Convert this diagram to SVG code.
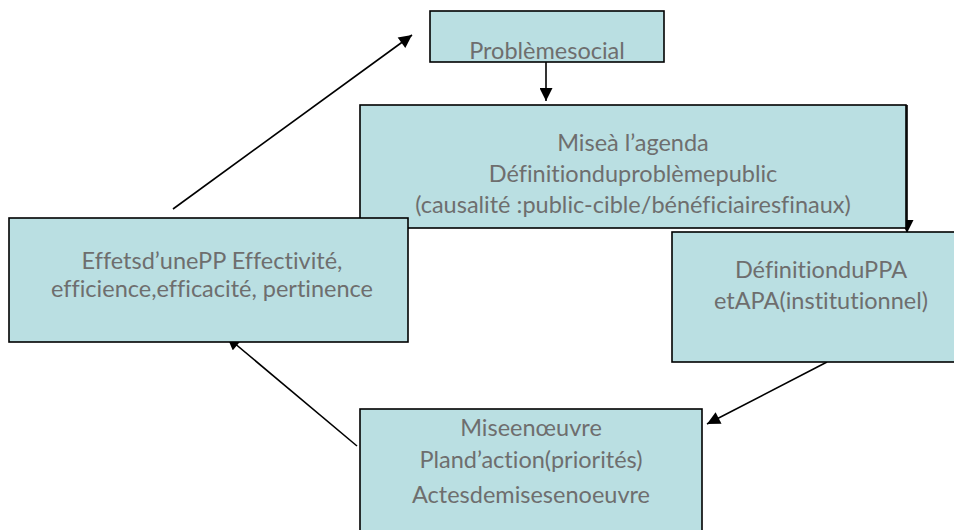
<svg xmlns="http://www.w3.org/2000/svg" width="954" height="530" viewBox="0 0 954 530">
  <defs>
    <marker id="arrowhead" viewBox="0 0 10 10" refX="10" refY="5" markerUnits="userSpaceOnUse" markerWidth="14" markerHeight="13" orient="auto">
      <path d="M0,0 L10,5 L0,10 z" fill="#000"/>
    </marker>
    <style>
      .box { fill: #badfe2; stroke: #000; stroke-width: 1.6; }
      .lbl { font-family: Lato, "Liberation Sans", sans-serif; font-size: 23.5px; fill: #6e6e6e; text-anchor: middle; font-variant-ligatures: none; font-feature-settings: "liga" 0; }
      .link { stroke: #000; stroke-width: 1.6; fill: none; marker-end: url(#arrowhead); }
    </style>
  </defs>
  <rect width="954" height="530" fill="#fff"/>

  <!-- connectors drawn first; boxes sit on top -->
  <g id="connectors">
    <line class="link" x1="546" y1="62" x2="546" y2="101"/>
    <line class="link" x1="907" y1="105" x2="907" y2="233"/>
    <line class="link" x1="827" y1="362" x2="707" y2="424"/>
    <line class="link" x1="357" y1="446" x2="227" y2="337"/>
    <line class="link" x1="173" y1="209" x2="412" y2="35"/>
  </g>

  <g id="probleme-social">
    <rect class="box" x="430" y="11" width="234" height="51"/>
    <text class="lbl" x="547" y="59">Problèmesocial</text>
  </g>

  <g id="mise-agenda">
    <rect class="box" x="360" y="105" width="546" height="123"/>
    <text class="lbl" x="633" y="151">Miseà l’agenda</text>
    <text class="lbl" x="633" y="182">Définitionduproblèmepublic</text>
    <text class="lbl" x="633" y="213">(causalité :public-cible/bénéficiairesfinaux)</text>
  </g>

  <g id="definition-ppa">
    <rect class="box" x="672" y="232" width="290" height="130"/>
    <text class="lbl" x="821" y="278">DéfinitionduPPA</text>
    <text class="lbl" x="821" y="309">etAPA(institutionnel)</text>
  </g>

  <g id="effets">
    <rect class="box" x="9" y="218" width="399" height="124"/>
    <text class="lbl" x="212" y="269">Effetsd’unePP Effectivité,</text>
    <text class="lbl" x="212" y="297">efficience,efficacité, pertinence</text>
  </g>

  <g id="mise-en-oeuvre">
    <rect class="box" x="360" y="409" width="342" height="130"/>
    <text class="lbl" x="531" y="436">Miseenœuvre</text>
    <text class="lbl" x="531" y="468">Pland’action(priorités)</text>
    <text class="lbl" x="531" y="503">Actesdemisesenoeuvre</text>
  </g>
</svg>
